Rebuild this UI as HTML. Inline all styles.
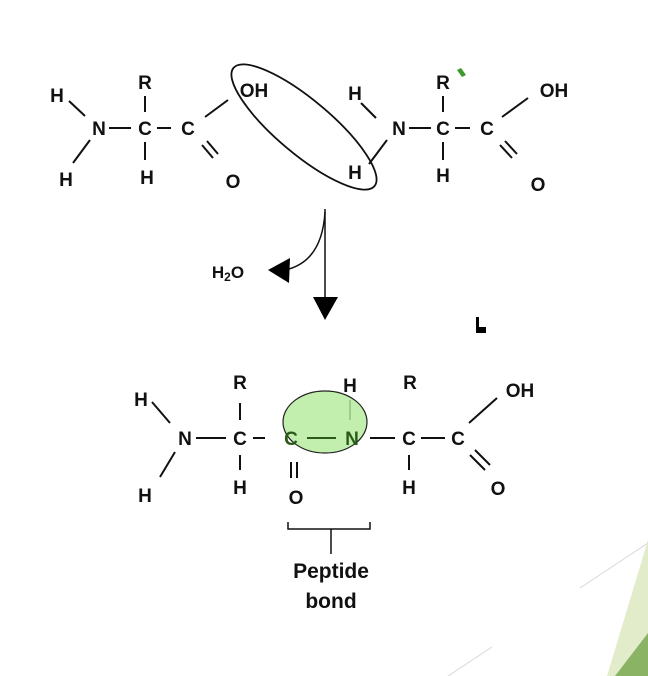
<!DOCTYPE html>
<html><head><style>html,body{margin:0;padding:0;background:#fff;}svg{display:block}</style></head>
<body>
<svg width="648" height="676" viewBox="0 0 648 676" xmlns="http://www.w3.org/2000/svg" font-family="Liberation Sans, Arial, sans-serif" font-weight="bold">
<polygon points="648,540 648,676 607,676" fill="#e2ecca"/>
<polygon points="648,633 648,676 615,676" fill="#8ab463"/>
<line x1="580" y1="588" x2="648" y2="543" stroke="#d8d8d8" stroke-width="1"/>
<line x1="448" y1="676" x2="492" y2="647" stroke="#d8d8d8" stroke-width="1"/>
<g fill="#111" font-size="19" text-anchor="middle">
<text x="57" y="102">H</text><text x="99" y="135">N</text><text x="66" y="186">H</text>
<text x="145" y="89">R</text><text x="145" y="135">C</text><text x="147" y="184">H</text>
<text x="188" y="135">C</text><text x="254" y="97">OH</text><text x="233" y="188">O</text>
<text x="355" y="100">H</text><text x="399" y="135">N</text><text x="355" y="179">H</text>
<text x="443" y="89">R</text><text x="443" y="135">C</text><text x="443" y="182">H</text>
<text x="487" y="135">C</text><text x="554" y="97">OH</text><text x="538" y="191">O</text>
<text x="228" y="278" font-size="17">H<tspan font-size="12" dy="3">2</tspan><tspan dy="-3">O</tspan></text>
<text x="141" y="406">H</text><text x="185" y="445">N</text><text x="145" y="502">H</text>
<text x="240" y="389">R</text><text x="240" y="445">C</text><text x="240" y="494">H</text>
<text x="350" y="392">H</text><text x="410" y="389">R</text>
<text x="409" y="445">C</text><text x="409" y="494">H</text>
<text x="458" y="445">C</text><text x="520" y="397">OH</text><text x="498" y="495">O</text>
<text x="296" y="504">O</text>
<text x="331" y="578" font-size="21">Peptide</text><text x="331" y="608" font-size="21">bond</text>
</g>
<g stroke="#111" stroke-width="2" fill="none">
<line x1="69" y1="101" x2="85" y2="116"/><line x1="90" y1="140" x2="73" y2="163"/>
<line x1="109" y1="128" x2="131" y2="128"/><line x1="157" y1="128" x2="171" y2="128"/>
<line x1="145" y1="96" x2="145" y2="112"/><line x1="145" y1="142" x2="145" y2="160"/>
<line x1="205" y1="117" x2="228" y2="100"/>
<line x1="202" y1="145" x2="213" y2="158"/><line x1="207" y1="141" x2="218" y2="154"/>
<ellipse cx="304" cy="127" rx="92" ry="27" transform="rotate(40 304 127)" stroke-width="1.8"/>
<line x1="361" y1="103" x2="376" y2="118"/><line x1="387" y1="140" x2="369" y2="164"/>
<line x1="409" y1="128" x2="431" y2="128"/><line x1="455" y1="128" x2="470" y2="128"/>
<line x1="443" y1="96" x2="443" y2="112"/><line x1="443" y1="142" x2="443" y2="160"/>
<line x1="502" y1="117" x2="528" y2="98"/>
<line x1="500" y1="145" x2="512" y2="158"/><line x1="505" y1="141" x2="517" y2="154"/>
<line x1="325" y1="209" x2="325" y2="298" stroke-width="1.5"/>
<path d="M325 212 Q322 262 285 270" stroke-width="1.5"/>
<line x1="152" y1="402" x2="170" y2="423"/><line x1="175" y1="452" x2="160" y2="477"/>
<line x1="196" y1="438" x2="226" y2="438"/><line x1="253" y1="438" x2="265" y2="438"/>
<line x1="240" y1="403" x2="240" y2="420"/><line x1="240" y1="455" x2="240" y2="470"/>
<line x1="350" y1="400" x2="350" y2="420"/>
<line x1="370" y1="438" x2="395" y2="438"/><line x1="421" y1="438" x2="445" y2="438"/>
<line x1="409" y1="455" x2="409" y2="470"/>
<line x1="469" y1="423" x2="497" y2="398"/>
<line x1="470" y1="455" x2="485" y2="470"/><line x1="475" y1="450" x2="490" y2="465"/>
<line x1="291" y1="462" x2="291" y2="478"/><line x1="297" y1="462" x2="297" y2="478"/>
<path d="M288 522 V529 H370 V522" stroke-width="1.5"/><line x1="331" y1="529" x2="331" y2="554" stroke-width="1.5"/>
</g>
<ellipse cx="325" cy="422" rx="42" ry="31" fill="#b8eca0" fill-opacity="0.85" stroke="#222" stroke-width="1.2"/>
<g fill="#2a5a1a" font-size="19" text-anchor="middle">
<text x="291" y="445">C</text><text x="352" y="445">N</text>
</g>
<line x1="307" y1="438" x2="336" y2="438" stroke="#2a5a1a" stroke-width="2"/>
<polygon points="313,297 338,297 325,320" fill="#000"/>
<polygon points="268,270 290,258 289,283" fill="#000"/>
<polygon points="457,70 461,68 466,75 462,77" fill="#3a9a2a"/>
<path d="M476 317 V333 H486 V327 H479 V317 Z" fill="#000"/>
</svg>
</body></html>
